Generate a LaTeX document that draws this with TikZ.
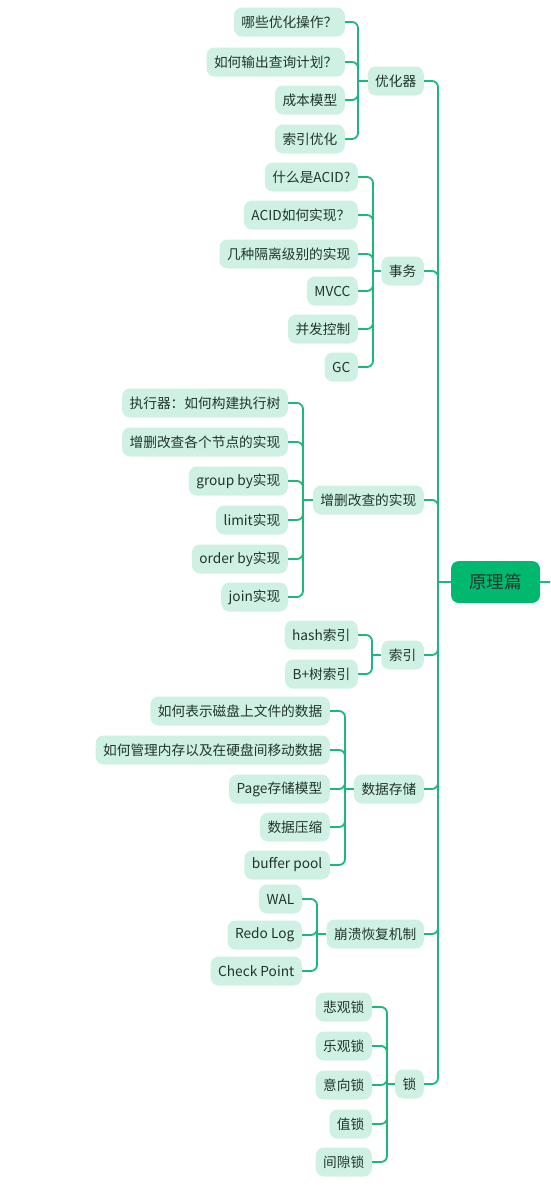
\documentclass[tikz,border=0pt]{standalone}
\usepackage{fontspec}
\setmainfont{Noto Sans CJK SC}
\usepackage{tikz}
\usetikzlibrary{positioning,calc}
\definecolor{mint}{RGB}{206,241,227}
\definecolor{linegreen}{RGB}{26,184,122}
\definecolor{rootgreen}{RGB}{0,185,110}
\definecolor{txt}{RGB}{34,52,44}

\begin{document}
\begin{tikzpicture}[
    x=1pt, y=-1pt,
    leaf/.style={fill=mint, rounded corners=8pt, minimum height=29pt, inner xsep=7.5pt, inner ysep=2pt, text=txt, font=\fontsize{13.7}{15}\selectfont, anchor=east},
    topic/.style={leaf},
    root/.style={fill=rootgreen, rounded corners=8pt, minimum height=42pt, minimum width=89pt, text=txt, font=\fontsize{17.5}{20}\selectfont},
    link/.style={draw=linegreen, line width=1.8pt, rounded corners=6pt}
]
\useasboundingbox (0,0) rectangle (550,1202);

% Root
\node[root] (root) at (495.5,582) {原理篇};
\coordinate (trunk) at (438,582);
\coordinate (out) at (550,582);

% 优化器
\node[topic] (opt) at (424,81) {优化器};
\coordinate (jopt) at (358,81);
\node[leaf] (opt1) at (345,22) {哪些优化操作？};
\node[leaf] (opt2) at (345,62) {如何输出查询计划？};
\node[leaf] (opt3) at (345,100) {成本模型};
\node[leaf] (opt4) at (345,139) {索引优化};

% 事务
\node[topic] (txn) at (424,271) {事务};
\coordinate (jtxn) at (373,271);
\node[leaf] (txn1) at (358,177) {什么是ACID?};
\node[leaf] (txn2) at (358,215) {ACID如何实现？};
\node[leaf] (txn3) at (358,254) {几种隔离级别的实现};
\node[leaf] (txn4) at (358,291) {MVCC};
\node[leaf] (txn5) at (358,329) {并发控制};
\node[leaf] (txn6) at (358,367) {GC};

% 增删改查的实现
\node[topic] (crud) at (424,500) {增删改查的实现};
\coordinate (jcrud) at (303,500);
\node[leaf] (crud1) at (288,403) {执行器：如何构建执行树};
\node[leaf] (crud2) at (288,442) {增删改查各个节点的实现};
\node[leaf] (crud3) at (288,481) {group by实现};
\node[leaf] (crud4) at (288,520) {limit实现};
\node[leaf] (crud5) at (288,559) {order by实现};
\node[leaf] (crud6) at (288,597) {join实现};

% 索引
\node[topic] (idx) at (424,655) {索引};
\coordinate (jidx) at (372,655);
\node[leaf] (idx1) at (358,635) {hash索引};
\node[leaf] (idx2) at (358,674) {B+树索引};

% 数据存储
\node[topic] (store) at (424,789) {数据存储};
\coordinate (jstore) at (345,789);
\node[leaf] (store1) at (330,711) {如何表示磁盘上文件的数据};
\node[leaf] (store2) at (330,750) {如何管理内存以及在硬盘间移动数据};
\node[leaf] (store3) at (330,789) {Page存储模型};
\node[leaf] (store4) at (330,827) {数据压缩};
\node[leaf] (store5) at (330,865) {buffer pool};

% 崩溃恢复机制
\node[topic] (rec) at (424,934) {崩溃恢复机制};
\coordinate (jrec) at (317,934);
\node[leaf] (rec1) at (302,899) {WAL};
\node[leaf] (rec2) at (302,935) {Redo Log};
\node[leaf] (rec3) at (302,971) {Check Point};

% 锁
\node[topic] (lock) at (424,1084) {锁};
\coordinate (jlock) at (387,1084);
\node[leaf] (lock1) at (372,1007) {悲观锁};
\node[leaf] (lock2) at (372,1046) {乐观锁};
\node[leaf] (lock3) at (372,1085) {意向锁};
\node[leaf] (lock4) at (372,1124) {值锁};
\node[leaf] (lock5) at (372,1162) {间隙锁};

% leaf connectors
\foreach \n in {opt1,opt2,opt3,opt4} \draw[link] (jopt) |- (\n.east);
\foreach \n in {txn1,txn2,txn3,txn4,txn5,txn6} \draw[link] (jtxn) |- (\n.east);
\foreach \n in {crud1,crud2,crud3,crud4,crud5,crud6} \draw[link] (jcrud) |- (\n.east);
\foreach \n in {idx1,idx2} \draw[link] (jidx) |- (\n.east);
\foreach \n in {store1,store2,store3,store4,store5} \draw[link] (jstore) |- (\n.east);
\foreach \n in {rec1,rec2,rec3} \draw[link] (jrec) |- (\n.east);
\foreach \n in {lock1,lock2,lock3,lock4,lock5} \draw[link] (jlock) |- (\n.east);

% topic connectors
\foreach \p in {opt,txn,crud,idx,store,rec,lock} {
  \draw[link] (j\p) -- (\p.west);
  \draw[link] (\p.east) -| (trunk);
}
\draw[link] (trunk) -- (root.west);
\draw[link] (root.east) -- (out);

\end{tikzpicture}
\end{document}
